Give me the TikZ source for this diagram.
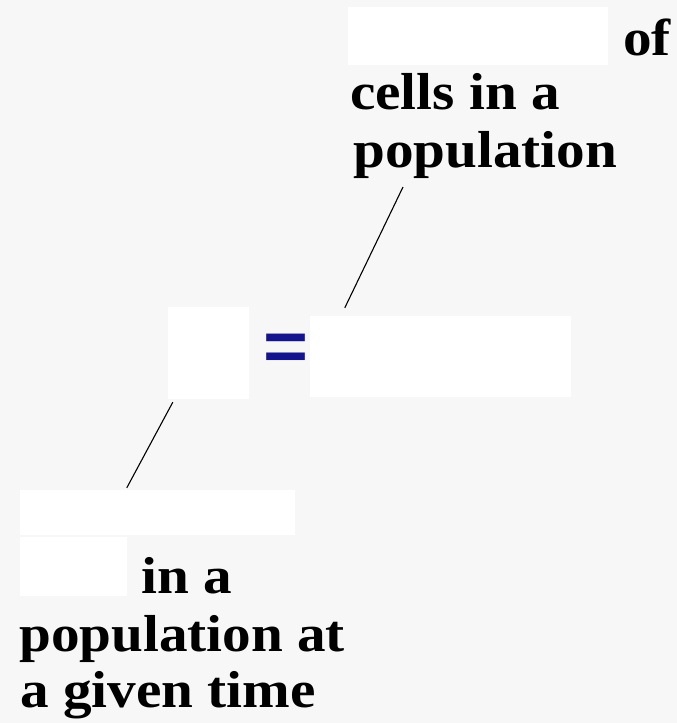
\documentclass[tikz,border=0pt]{standalone}
\usepackage{fontspec}
\newfontfamily\lblfont{Liberation Serif}[FakeStretch=1.1]
\newfontfamily\eqfont{Liberation Sans}[FakeStretch=1.1]
\definecolor{bggray}{RGB}{247,247,247}
\definecolor{eqblue}{RGB}{20,20,140}
\begin{document}
\begin{tikzpicture}[x=1pt, y=-1pt,
    blank/.style={fill=white, inner sep=0pt},
    word/.style={anchor=base west, inner sep=0pt, font=\lblfont\bfseries\fontsize{52}{57}\selectfont}]
    \fill[bggray] (0,0) rectangle (677,723);
    \useasboundingbox (0,0) rectangle (677,723);

    \node[blank, minimum width=260pt, minimum height=58pt] (topblank) at (478,36) {};
    \node[blank, minimum width=81pt, minimum height=92pt] (lhs) at (208.5,353) {};
    \node[blank, minimum width=261pt, minimum height=81pt] (rhs) at (440.5,356.5) {};
    \node[blank, minimum width=275pt, minimum height=45pt] (botblank) at (157.5,512.5) {};
    \node[blank, minimum width=107pt, minimum height=59pt] (smallblank) at (73.5,566.5) {};

    \node[text=eqblue, inner sep=0pt, font=\eqfont\bfseries\fontsize{70}{70}\selectfont] (eq) at (285.5,352.5) {=};

    \node[word] (of) at (623,55) {of};
    \node[word] (cells) at (350,109) {cells in a};
    \node[word] (popa) at (353,167) {population};

    \node[word] (ina) at (141,593) {in a};
    \node[word] (popb) at (19,651) {population at};
    \node[word] (given) at (20,707) {a given time};

    \coordinate (topend) at (403,187);
    \draw[line width=1.1pt] ([xshift=35pt,yshift=8pt]rhs.north west) -- (topend);
    \draw[line width=1.1pt] ([xshift=5pt,yshift=-3pt]lhs.south west) -- ([xshift=107pt,yshift=2pt]botblank.north west);
\end{tikzpicture}
\end{document}
